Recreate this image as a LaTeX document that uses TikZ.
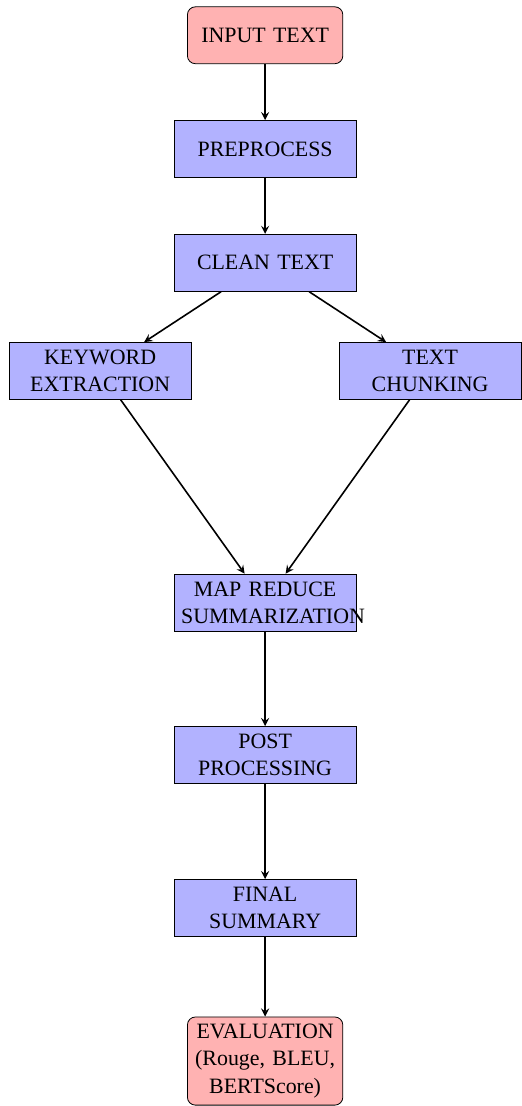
\documentclass[tikz,border=0pt,11pt]{standalone}
\usepackage{fontspec}
\setmainfont{Liberation Serif}
\usepackage{tikz}
\usetikzlibrary{positioning,arrows}
\tikzstyle{terminal} = [draw=black, fill=red!30, rectangle, rounded corners, text width=2.5cm, inner xsep=3.3pt, minimum height=1cm, align=center]
\tikzstyle{proceso} = [draw=black, fill=blue!30, rectangle, text width=2.95cm, minimum height=1cm, align=center]
\tikzstyle{flecha} = [thick, ->, >=stealth]

\begin{document}
\begin{tikzpicture}
		\useasboundingbox (-4.66,0.62) rectangle (4.5,-18.82);
		\node[terminal](input) at (0,0) {INPUT TEXT};
		\node[proceso](pre) at (0,-2) {PREPROCESS};
		\node[proceso](clean) at (0,-4) {CLEAN TEXT};
		\node[proceso](keyword) at (-2.9,-5.9) {KEYWORD\\EXTRACTION};
		\node[proceso](chunk) at (2.9,-5.9) {TEXT\\CHUNKING};
		\node[proceso](mapred) at (0,-9.97) {MAP REDUCE\\\mbox{SUMMARIZATION}};
		\node[proceso](post) at (0,-12.65) {POST\\PROCESSING};
		\node[proceso](final) at (0,-15.34) {FINAL\\SUMMARY};
		\node[terminal](eval) at (0,-18.03) {EVALUATION\\\mbox{(Rouge, BLEU,}\\BERTScore)};

		\draw[flecha] (input) -- (pre);
		\draw[flecha] (pre) -- (clean);
		\draw[flecha] (clean) -- (keyword);
		\draw[flecha] (clean) -- (chunk);
		\draw[flecha] (keyword) -- (mapred);
		\draw[flecha] (chunk) -- (mapred);
		\draw[flecha] (mapred) -- (post);
		\draw[flecha] (post) -- (final);
		\draw[flecha] (final) -- (eval);
	\end{tikzpicture}
\end{document}
